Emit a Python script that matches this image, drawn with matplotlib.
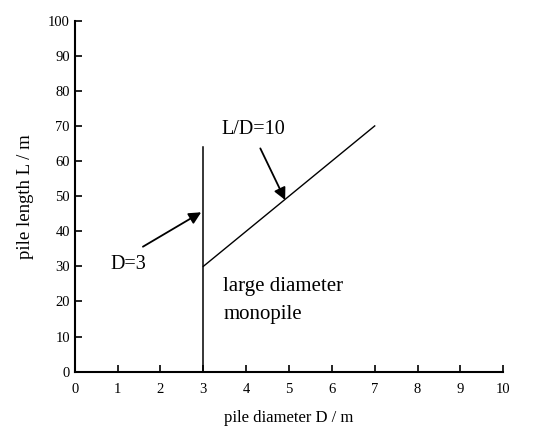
import matplotlib.pyplot as plt

plt.rcParams['font.family'] = ['Liberation Serif', 'DejaVu Serif']

# boundary lines
d3_x = [3, 3]
d3_y = [0, 64]
ld10_x = [3, 7]
ld10_y = [30, 70]

x_ticks = list(range(0, 11))
y_ticks = list(range(0, 101, 10))

fig = plt.figure(figsize=(5.5, 4.38), dpi=100)
ax = fig.add_axes([0.136, 0.1514, 0.779, 0.8016])

ax.plot(d3_x, d3_y, color='black', lw=1.1)
ax.plot(ld10_x, ld10_y, color='black', lw=1.0)

arrow = dict(arrowstyle='-|>', color='black', lw=1.3, mutation_scale=18,
             shrinkA=0, shrinkB=0)
ax.annotate('', xy=(2.95, 45.4), xytext=(1.59, 35.6), arrowprops=arrow)
ax.annotate('', xy=(4.91, 48.9), xytext=(4.33, 63.6), arrowprops=arrow)

ax.text(0.83, 30.4, 'D=3', fontsize=14.5, va='center', ha='left')
ax.text(3.42, 68.9, 'L/D=10', fontsize=14.5, va='center', ha='left')
ax.text(3.47, 24.2, 'large diameter', fontsize=15, va='center', ha='left')
ax.text(3.47, 16.2, 'monopile', fontsize=15, va='center', ha='left')

ax.set_xlim(0, 10)
ax.set_ylim(0, 100)
ax.set_xticks(x_ticks)
ax.set_yticks(y_ticks)
ax.tick_params(direction='in', length=5, width=1.2, labelsize=10.5)
ax.tick_params(axis='x', pad=8)
ax.spines['top'].set_visible(False)
ax.spines['right'].set_visible(False)
ax.spines['left'].set_linewidth(1.5)
ax.spines['bottom'].set_linewidth(1.5)

ax.set_xlabel('pile diameter D / m', fontsize=12, labelpad=10)
ax.set_ylabel('pile length L / m', fontsize=13.5, labelpad=10)

fig.savefig('out.png', dpi=100)
